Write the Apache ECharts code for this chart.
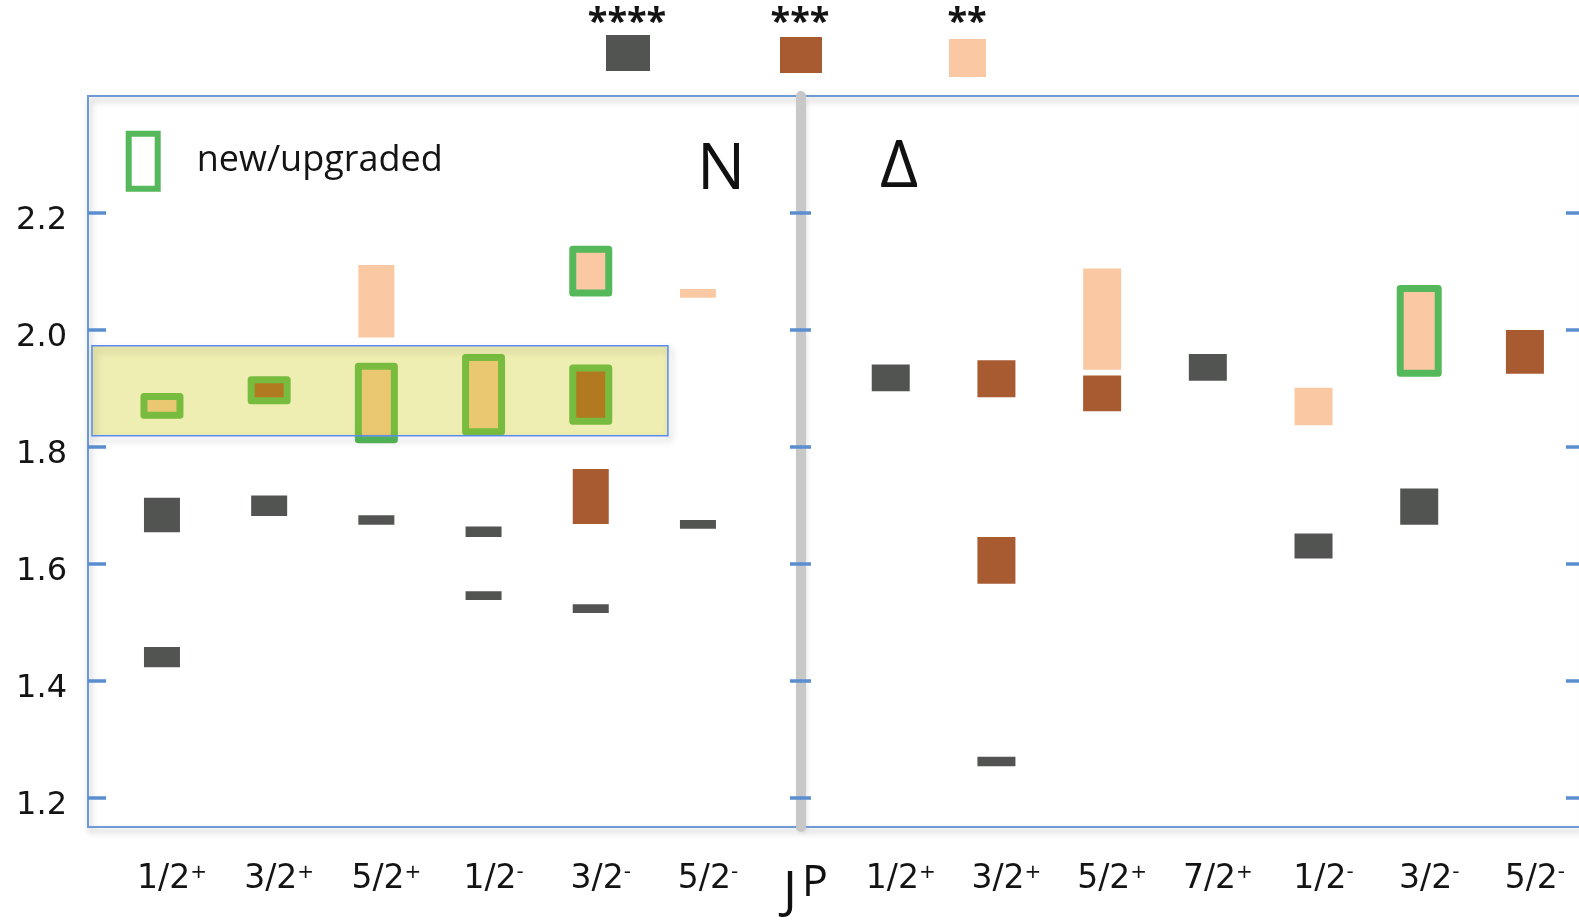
<!DOCTYPE html>
<html>
<head>
<meta charset="utf-8">
<script src="https://cdn.jsdelivr.net/npm/echarts@6/dist/echarts.min.js"></script>
<style>
  html, body { margin: 0; padding: 0; background: #ffffff; }
  #chart { width: 1579px; height: 921px; }
</style>
</head>
<body>
<div id="chart"></div>
<script>
// J^P categories of each panel (last character is the parity)
const nCategories = ['1/2+', '3/2+', '5/2+', '1/2-', '3/2-', '5/2-'];
const deltaCategories = ['1/2+', '3/2+', '5/2+', '7/2+', '1/2-', '3/2-', '5/2-'];
const massTicks = [1.2, 1.4, 1.6, 1.8, 2.0, 2.2];

// Mass ranges in GeV: [category index, low, high, new/upgraded flag]
const nFourStar = [
  [0, 1.423, 1.458, 0],
  [0, 1.654, 1.713, 0],
  [1, 1.682, 1.717, 0],
  [2, 1.667, 1.683, 0],
  [3, 1.646, 1.664, 0],
  [3, 1.538, 1.553, 0],
  [4, 1.516, 1.531, 0],
  [5, 1.660, 1.675, 0]
];
const nThreeStar = [
  [1, 1.879, 1.915, 1],
  [4, 1.668, 1.762, 0],
  [4, 1.844, 1.935, 1]
];
const nTwoStar = [
  [0, 1.854, 1.886, 1],
  [2, 1.987, 2.111, 0],
  [2, 1.812, 1.938, 1],
  [3, 1.826, 1.953, 1],
  [4, 2.063, 2.138, 1],
  [5, 2.055, 2.070, 0]
];
const deltaFourStar = [
  [0, 1.895, 1.941, 0],
  [1, 1.254, 1.270, 0],
  [3, 1.913, 1.959, 0],
  [4, 1.609, 1.652, 0],
  [5, 1.667, 1.729, 0]
];
const deltaThreeStar = [
  [1, 1.885, 1.948, 0],
  [1, 1.566, 1.646, 0],
  [2, 1.861, 1.922, 0],
  [6, 1.925, 2.000, 0]
];
const deltaTwoStar = [
  [2, 1.932, 2.105, 0],
  [4, 1.837, 1.901, 0],
  [5, 1.926, 2.071, 1]
];
// Highlighted band in the N panel: [x from, x to, mass low, mass high]
const nBand = [-0.653, 4.72, 1.819, 1.973];

const C4 = '#525452';
const C3 = '#a85a30';
const C2 = '#fac9a3';
const GREEN = '#55b85a';
const FRAME = '#6e9bd3';
const TICK = '#5b8ecf';
const TEXT = '#141414';
const FONT = '"Open Sans", "Noto Sans", sans-serif';
const AXIS_FONT = '"DejaVu Sans", sans-serif';

function boxRenderer(width) {
  return function (params, api) {
    const c = api.value(0);
    const top = api.coord([c, api.value(2)]);
    const bottom = api.coord([c, api.value(1)]);
    return {
      type: 'rect',
      shape: { x: top[0] - width / 2, y: top[1], width: width, height: bottom[1] - top[1] },
      style: { fill: api.visual('color') }
    };
  };
}

function outlineRenderer(width) {
  return function (params, api) {
    const c = api.value(0);
    const top = api.coord([c, api.value(2)]);
    const bottom = api.coord([c, api.value(1)]);
    return {
      type: 'rect',
      shape: { x: top[0] - width / 2, y: top[1], width: width, height: bottom[1] - top[1] },
      style: { fill: 'none', stroke: GREEN, lineWidth: 7, lineJoin: 'round' }
    };
  };
}

function bandRenderer(params, api) {
  const a = api.coord([api.value(0), api.value(3)]);
  const b = api.coord([api.value(1), api.value(2)]);
  const shape = { x: a[0], y: a[1], width: b[0] - a[0], height: b[1] - a[1] };
  return {
    type: 'group',
    children: [
      { type: 'rect', shape: shape, style: { fill: 'rgba(200,200,0,0.3)' } },
      {
        type: 'rect', shape: shape,
        style: {
          fill: 'none', stroke: '#5a8cf0', lineWidth: 1.5,
          shadowBlur: 7, shadowOffsetX: 3, shadowOffsetY: 4, shadowColor: 'rgba(0,0,0,0.3)'
        }
      }
    ]
  };
}

function jpLabel(cat) {
  return '{m|' + cat.slice(0, -1) + '}{s|' + cat.slice(-1) + '}';
}

const labelRich = {
  m: { fontFamily: AXIS_FONT, fontSize: 33, color: TEXT },
  s: { fontFamily: AXIS_FONT, fontSize: 20, color: TEXT, verticalAlign: 'top' }
};

function categoryAxis(grid, cats, min, max) {
  return {
    gridIndex: grid, type: 'value', min: min, max: max,
    axisLine: { show: false, onZero: false }, axisTick: { show: false }, splitLine: { show: false },
    axisLabel: {
      customValues: cats.map((_, i) => i),
      formatter: v => jpLabel(cats[Math.round(v)]),
      margin: 36, padding: [0, 0, 0, 20], rich: labelRich
    }
  };
}

function massAxis(grid, position, opts) {
  const axis = Object.assign({
    gridIndex: grid, type: 'value', position: position, min: 1.15, max: 2.4,
    splitLine: { show: false },
    axisLine: { show: false },
    axisTick: { show: false },
    axisLabel: { show: false }
  }, opts);
  axis.axisLine = Object.assign({ onZero: false }, axis.axisLine);
  return axis;
}

function boxSeries(name, grid, data, color, width) {
  return {
    type: 'custom', name: name, xAxisIndex: grid, yAxisIndex: grid === 0 ? 0 : 2,
    itemStyle: { color: color },
    encode: { x: 0, y: [1, 2] },
    renderItem: boxRenderer(width),
    data: data
  };
}

function newSeries(grid, rows, width) {
  return {
    type: 'custom', name: 'new/upgraded', xAxisIndex: grid, yAxisIndex: grid === 0 ? 0 : 2,
    itemStyle: { color: GREEN },
    encode: { x: 0, y: [1, 2] },
    renderItem: outlineRenderer(width),
    data: rows.filter(r => r[3] === 1)
  };
}

function ratingLegend(name, color, left, top, w, h) {
  return {
    left: left, top: top, padding: 0, itemWidth: w, itemHeight: h,
    formatter: () => '',
    data: [{ name: name, icon: 'rect', itemStyle: { color: color, borderWidth: 0 } }]
  };
}

function gridBox(left, width) {
  return {
    left: left, top: 96, width: width, height: 731, show: true, outerBoundsMode: 'none',
    borderColor: FRAME, borderWidth: 2, backgroundColor: 'rgba(255,255,255,0)',
    shadowColor: 'rgba(0,0,0,0.3)', shadowBlur: 6, shadowOffsetX: 2, shadowOffsetY: 4
  };
}

const chart = echarts.init(document.getElementById('chart'), null, { renderer: 'canvas' });

chart.setOption({
  animation: false,
  backgroundColor: '#ffffff',
  grid: [gridBox(88, 712), gridBox(801, 783)],
  xAxis: [
    categoryAxis(0, nCategories, -0.69, 5.952),
    categoryAxis(1, deltaCategories, -0.849, 6.559)
  ],
  yAxis: [
    massAxis(0, 'left', {
      axisLine: { show: true, lineStyle: { color: FRAME, width: 2 } },
      axisTick: { show: true, inside: true, length: 18, customValues: massTicks, lineStyle: { color: TICK, width: 3.5 } },
      axisLabel: {
        show: true, customValues: massTicks,
        formatter: v => '{v|' + v.toFixed(1) + '}',
        margin: 21,
        rich: { v: { fontFamily: AXIS_FONT, fontSize: 32, color: TEXT, padding: [16, 0, 0, 0] } }
      }
    }),
    massAxis(0, 'right', {
      z: 5,
      axisTick: { show: true, inside: false, length: 11, customValues: massTicks, lineStyle: { color: TICK, width: 3.5 } }
    }),
    massAxis(1, 'left', {
      z: 3,
      axisLine: { show: true, lineStyle: { color: '#c8c8c8', width: 10 } },
      axisTick: { show: true, inside: false, length: 11, customValues: massTicks, lineStyle: { color: TICK, width: 3.5 } }
    }),
    massAxis(1, 'right', {
      axisLine: { show: true, lineStyle: { color: FRAME, width: 2 } },
      axisTick: { show: true, inside: true, length: 18, customValues: massTicks, lineStyle: { color: TICK, width: 3.5 } }
    })
  ],
  legend: [
    ratingLegend('****', C4, 606, 35, 44, 36),
    ratingLegend('***', C3, 780, 37, 42, 36),
    ratingLegend('**', C2, 949, 39, 37, 38),
    {
      left: 125.7, top: 130.7, padding: 0, itemWidth: 29, itemHeight: 55,
      textStyle: { fontFamily: FONT, fontSize: 36, color: TEXT, padding: [0, 0, 4, 34] },
      data: [{ name: 'new/upgraded', icon: 'rect', itemStyle: { color: '#ffffff', borderColor: GREEN, borderWidth: 6 } }]
    }
  ],
  graphic: [
    { type: 'text', x: 627, y: 23, style: { text: '****', fontFamily: FONT, fontSize: 36, fontWeight: 'bold', fill: TEXT, align: 'center', verticalAlign: 'middle' } },
    { type: 'text', x: 800, y: 23, style: { text: '***', fontFamily: FONT, fontSize: 36, fontWeight: 'bold', fill: TEXT, align: 'center', verticalAlign: 'middle' } },
    { type: 'text', x: 967, y: 23, style: { text: '**', fontFamily: FONT, fontSize: 36, fontWeight: 'bold', fill: TEXT, align: 'center', verticalAlign: 'middle' } },
    { type: 'text', x: 721, y: 171, z: 10, style: { text: 'N', fontFamily: FONT, fontSize: 64, fill: '#111111', align: 'center', verticalAlign: 'middle' } },
    { type: 'text', x: 899, y: 168, z: 10, style: { text: 'Δ', fontFamily: FONT, fontSize: 66, fill: '#111111', align: 'center', verticalAlign: 'middle' } },
    // axis name J^P
    { type: 'text', x: 783, y: 893, z: 10, style: { text: 'J', fontFamily: FONT, fontSize: 52, fill: '#111111', align: 'left', verticalAlign: 'middle' } },
    { type: 'text', x: 802, y: 884, z: 10, style: { text: 'P', fontFamily: FONT, fontSize: 43, fill: '#111111', align: 'left', verticalAlign: 'middle' } }
  ],
  series: [
    boxSeries('****', 0, nFourStar, C4, 36),
    boxSeries('***', 0, nThreeStar, C3, 36),
    boxSeries('**', 0, nTwoStar, C2, 36),
    newSeries(0, nTwoStar.concat(nThreeStar), 36),
    {
      type: 'custom', name: 'band', xAxisIndex: 0, yAxisIndex: 0,
      encode: { x: [0, 1], y: [2, 3] },
      renderItem: bandRenderer,
      silent: true,
      data: [nBand]
    },
    boxSeries('****', 1, deltaFourStar, C4, 38),
    boxSeries('***', 1, deltaThreeStar, C3, 38),
    boxSeries('**', 1, deltaTwoStar, C2, 38),
    newSeries(1, deltaTwoStar.concat(deltaThreeStar), 38)
  ]
});
</script>
</body>
</html>
